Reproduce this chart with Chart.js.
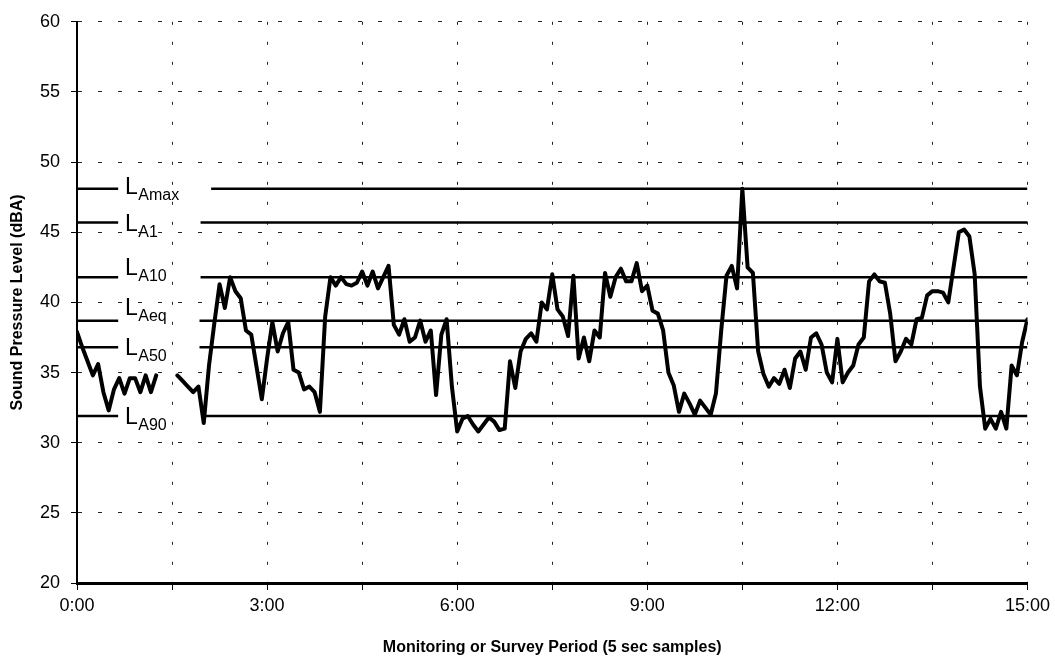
<!DOCTYPE html>
<html>
<head>
<meta charset="utf-8">
<script src="https://cdn.jsdelivr.net/npm/chart.js@4/dist/chart.umd.min.js"></script>
<style>
  html, body { margin: 0; padding: 0; background: #fff; }
  #wrap { width: 1055px; height: 657px; }
</style>
</head>
<body>
<div id="wrap"><canvas id="c" width="1055" height="657"></canvas></div>
<script>
// ---- data ----
const SAMPLE_SECONDS = 5;
const soundLevels = [
  37.9, 36.8, 35.8, 34.8, 35.6, 33.6, 32.3, 33.8, 34.6, 33.5,
  34.6, 34.6, 33.6, 34.8, 33.6, 34.8, null, null, null, 34.8,
  34.4, 34.0, 33.6, 34.0, 31.4, 35.5, 38.5, 41.3, 39.6, 41.8,
  40.8, 40.3, 38.0, 37.7, 35.4, 33.1, 36.0, 38.6, 36.5, 37.8,
  38.6, 35.2, 35.0, 33.8, 34.0, 33.6, 32.2, 39.0, 41.8, 41.2,
  41.8, 41.3, 41.2, 41.4, 42.2, 41.2, 42.2, 41.0, 41.8, 42.6,
  38.4, 37.7, 38.8, 37.2, 37.5, 38.7, 37.2, 38.0, 33.4, 37.7,
  38.8, 34.0, 30.8, 31.7, 31.9, 31.3, 30.8, 31.3, 31.8, 31.5,
  30.9, 31.0, 35.8, 33.9, 36.5, 37.4, 37.8, 37.2, 40.0, 39.5,
  42.0, 39.5, 39.0, 37.6, 41.9, 36.0, 37.5, 35.8, 38.0, 37.5,
  42.1, 40.4, 41.8, 42.4, 41.5, 41.5, 42.8, 40.8, 41.2, 39.4,
  39.2, 38.0, 35.0, 34.1, 32.2, 33.5, 32.8, 32.0, 33.0, 32.5,
  32.0, 33.5, 38.0, 41.9, 42.6, 41.0, 48.1, 42.5, 42.1, 36.5,
  34.9, 34.0, 34.6, 34.2, 35.2, 33.9, 36.0, 36.5, 35.2, 37.5,
  37.8, 37.0, 35.0, 34.3, 37.4, 34.3, 35.0, 35.5, 37.0, 37.5,
  41.5, 42.0, 41.5, 41.4, 39.2, 35.8, 36.5, 37.4, 37.0, 38.8,
  38.9, 40.5, 40.8, 40.8, 40.7, 40.0, 42.5, 45.0, 45.2, 44.7,
  42.0, 34.0, 31.0, 31.7, 31.0, 32.2, 31.0, 35.5, 34.8, 37.2,
  38.8
];
const levelNames  = ['Amax', 'A1', 'A10', 'Aeq', 'A50', 'A90'];
const levelValues = [48.1, 45.7, 41.8, 38.7, 36.8, 31.9];
const xTickSeconds = [0, 180, 360, 540, 720, 900];
const xTickLabels  = ['0:00', '3:00', '6:00', '9:00', '12:00', '15:00'];
const yTickLabels  = ['20', '25', '30', '35', '40', '45', '50', '55', '60'];

// ---- presentation settings ----
const FONT = '"Liberation Sans", Arial, sans-serif';
const gapStart = 39;                          // seconds where the label gap begins
const gapEnds  = [127, 117, 117, 116, 116, 120];
const labelOffsets = [0, 3.5, -7.5, -10.5, 2.5, 2.5];

const seriesPoints = soundLevels.map((v, i) => ({ x: i * SAMPLE_SECONDS, y: v }));
const levelDatasets = levelValues.map((v, k) => ({
  label: 'L' + levelNames[k],
  data: [
    { x: 0, y: v }, { x: gapStart, y: v }, { x: gapStart + 0.01, y: null },
    { x: gapEnds[k], y: v }, { x: 900, y: v }
  ],
  borderColor: '#000',
  borderWidth: 2.5,
  pointRadius: 0,
  spanGaps: false,
  tension: 0,
  order: 2
}));

const levelLabelPlugin = {
  id: 'levelLabels',
  afterDatasetsDraw(chart) {
    const { ctx, scales: { y }, chartArea } = chart;
    ctx.save();
    ctx.fillStyle = '#000';
    levelValues.forEach((v, k) => {
      const py = y.getPixelForValue(v) + labelOffsets[k];
      const base = py + 5;
      const lx = chartArea.left + 48;
      ctx.font = '23px ' + FONT;
      ctx.textBaseline = 'alphabetic';
      ctx.textAlign = 'left';
      ctx.fillText('L', lx, base);
      const w = ctx.measureText('L').width;
      ctx.font = '16px ' + FONT;
      ctx.fillText(levelNames[k], lx + w + 0.5, base + 6);
    });
    ctx.restore();
  }
};

new Chart(document.getElementById('c'), {
  type: 'line',
  data: {
    datasets: [
      {
        label: 'Sound Pressure Level',
        data: seriesPoints,
        borderColor: '#000',
        borderWidth: 4,
        pointRadius: 0,
        spanGaps: false,
        tension: 0,
        borderJoinStyle: 'round',
        borderCapStyle: 'round',
        order: 1
      },
      ...levelDatasets
    ]
  },
  options: {
    responsive: false,
    animation: false,
    devicePixelRatio: 1,
    layout: { padding: { top: 17, right: 25, left: 0, bottom: 0 } },
    plugins: { legend: { display: false }, tooltip: { enabled: false } },
    scales: {
      x: {
        type: 'linear',
        min: 0,
        max: 900,
        afterFit(scale) { scale.height = 74; },
        afterBuildTicks(scale) {
          const t = [];
          for (let s = 0; s <= 900; s += 90) t.push({ value: s });
          scale.ticks = t;
        },
        ticks: {
          autoSkip: false,
          maxRotation: 0,
          padding: 5,
          color: '#000',
          font: { family: FONT, size: 18 },
          callback(value) {
            const idx = xTickSeconds.indexOf(value);
            return idx >= 0 ? xTickLabels[idx] : '';
          }
        },
        grid: {
          color: '#222',
          lineWidth: 1,
          tickLength: 7,
          tickColor: '#000',
          tickWidth: 1
        },
        border: { display: true, color: '#000', width: 3, dash: [3, 17] },
        title: {
          display: true,
          text: 'Monitoring or Survey Period (5 sec samples)',
          color: '#000',
          font: { family: FONT, size: 16, weight: 'bold' },
          padding: { top: 0, bottom: 0 }
        }
      },
      y: {
        min: 20,
        max: 60,
        afterFit(scale) { scale.width = 77; },
        ticks: {
          stepSize: 5,
          padding: 11,
          color: '#000',
          font: { family: FONT, size: 18 },
          callback(value) {
            const idx = Math.round((value - 20) / 5);
            return yTickLabels[idx];
          }
        },
        grid: {
          color: '#222',
          lineWidth: 1,
          tickLength: 6,
          tickColor: '#000',
          tickWidth: 1
        },
        border: { display: true, color: '#000', width: 2, dash: [4, 16] },
        title: {
          display: true,
          text: 'Sound Pressure Level (dBA)',
          color: '#000',
          font: { family: FONT, size: 16, weight: 'bold' },
          padding: { top: 8, bottom: 0 }
        }
      }
    }
  },
  plugins: [levelLabelPlugin]
});
</script>
</body>
</html>
